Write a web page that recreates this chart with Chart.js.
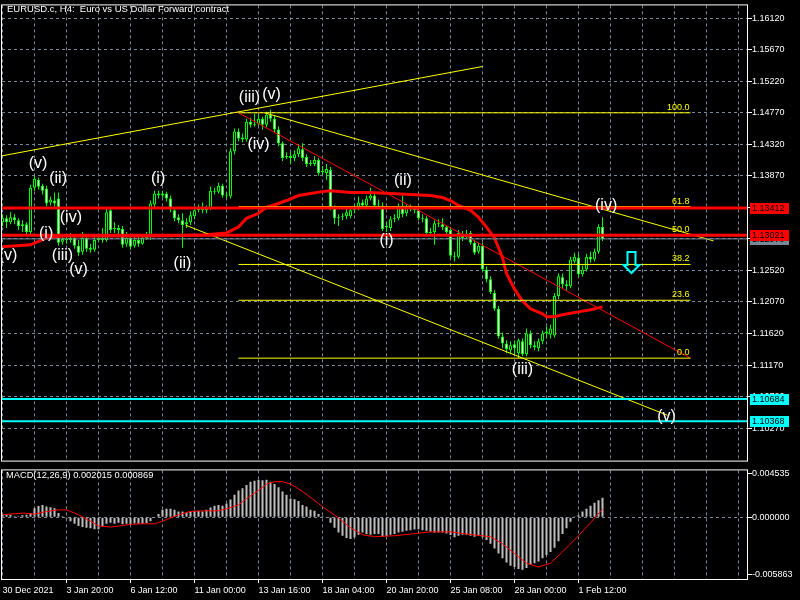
<!DOCTYPE html>
<html>
<head>
<meta charset="utf-8">
<title>EURUSD.c H4</title>
<script src="https://cdn.jsdelivr.net/npm/chart.js@4.4.1/dist/chart.umd.min.js"></script>
<style>
  html, body { margin: 0; padding: 0; background: #000; }
  #wrap { position: relative; width: 800px; height: 600px; overflow: hidden; }
  #price { position: absolute; left: 0; top: 0; }
  #macd { position: absolute; left: 0; top: 465px; }
</style>
</head>
<body>
<div id="wrap">
  <canvas id="price" width="800" height="466"></canvas>
  <canvas id="macd" width="800" height="135"></canvas>
</div>
<script>
// chart header
const chartTitle = "EURUSD.c, H4:  Euro vs US Dollar Forward contract";
const macdTitle = "MACD(12,26,9) 0.002015 0.000869";

// H4 candles, bar index 0..150
const opens = [
  1.13209, 1.13265, 1.13209, 1.13280, 1.13237, 1.13153, 1.13181, 1.13069, 1.13702, 1.13814,
  1.13730, 1.13688, 1.13490, 1.13518, 1.13547, 1.12928, 1.12970, 1.12956, 1.12984, 1.12872,
  1.12787, 1.12984, 1.12844, 1.12815, 1.12956, 1.12984, 1.12956, 1.13378, 1.13111, 1.13125,
  1.13111, 1.12900, 1.12984, 1.12872, 1.12956, 1.12900, 1.12984, 1.12998, 1.13462, 1.13617,
  1.13589, 1.13617, 1.13547, 1.13378, 1.13280, 1.13237, 1.13181, 1.13209, 1.13294, 1.13378,
  1.13406, 1.13378, 1.13406, 1.13659, 1.13645, 1.13730, 1.13589, 1.13575, 1.14222, 1.14503,
  1.14419, 1.14390, 1.14643, 1.14601, 1.14615, 1.14685, 1.14601, 1.14742, 1.14685, 1.14531,
  1.14334, 1.14138, 1.14152, 1.14124, 1.14180, 1.14250, 1.14138, 1.14039, 1.14039, 1.14095,
  1.13926, 1.13912, 1.13955, 1.13406, 1.13265, 1.13280, 1.13294, 1.13294, 1.13378, 1.13406,
  1.13490, 1.13448, 1.13547, 1.13589, 1.13476, 1.13448, 1.13139, 1.13125, 1.13251, 1.13265,
  1.13420, 1.13336, 1.13420, 1.13406, 1.13378, 1.13265, 1.13265, 1.13055, 1.13069, 1.13195,
  1.13181, 1.13139, 1.13097, 1.12731, 1.12717, 1.13040, 1.12998, 1.13055, 1.12914, 1.12787,
  1.12872, 1.12534, 1.12393, 1.12197, 1.11972, 1.11578, 1.11479, 1.11381, 1.11465, 1.11339,
  1.11508, 1.11325, 1.11620, 1.11451, 1.11409, 1.11508, 1.11620, 1.11606, 1.11592, 1.12154,
  1.12422, 1.12323, 1.12295, 1.12647, 1.12703, 1.12464, 1.12534, 1.12717, 1.12675, 1.12787,
  1.13139
];
const highs = [
  1.13322, 1.13308, 1.13350, 1.13322, 1.13265, 1.13237, 1.13209, 1.13744, 1.13870, 1.13842,
  1.13758, 1.13730, 1.13575, 1.13631, 1.13631, 1.13012, 1.13012, 1.13055, 1.13040, 1.12956,
  1.13069, 1.13026, 1.12900, 1.13012, 1.13040, 1.13125, 1.13406, 1.13420, 1.13209, 1.13167,
  1.13153, 1.13069, 1.13026, 1.13012, 1.12998, 1.13040, 1.13069, 1.13518, 1.13659, 1.13659,
  1.13659, 1.13645, 1.13589, 1.13420, 1.13322, 1.13336, 1.13265, 1.13364, 1.13434, 1.13462,
  1.13490, 1.13448, 1.13716, 1.13702, 1.13772, 1.13758, 1.13631, 1.14264, 1.14545, 1.14545,
  1.14475, 1.14685, 1.14700, 1.14756, 1.14742, 1.14714, 1.14784, 1.14812, 1.14728, 1.14573,
  1.14362, 1.14208, 1.14208, 1.14236, 1.14320, 1.14334, 1.14180, 1.14095, 1.14152, 1.14124,
  1.14011, 1.14039, 1.13997, 1.13448, 1.13322, 1.13336, 1.13406, 1.13434, 1.13462, 1.13575,
  1.13533, 1.13589, 1.13702, 1.13631, 1.13533, 1.13490, 1.13209, 1.13294, 1.13322, 1.13476,
  1.13589, 1.13462, 1.13462, 1.13434, 1.13420, 1.13322, 1.13294, 1.13125, 1.13237, 1.13251,
  1.13265, 1.13167, 1.13139, 1.12787, 1.13097, 1.13083, 1.13097, 1.13083, 1.12956, 1.12914,
  1.12914, 1.12576, 1.12436, 1.12239, 1.12014, 1.11634, 1.11522, 1.11508, 1.11522, 1.11550,
  1.11550, 1.11690, 1.11662, 1.11508, 1.11550, 1.11662, 1.11719, 1.11747, 1.12197, 1.12478,
  1.12478, 1.12379, 1.12717, 1.12773, 1.12759, 1.12590, 1.12759, 1.12787, 1.12830, 1.13181,
  1.13280
];
const lows = [
  1.13153, 1.13125, 1.13181, 1.13181, 1.13097, 1.13069, 1.13026, 1.13012, 1.13659, 1.13674,
  1.13603, 1.13434, 1.13448, 1.13434, 1.12872, 1.12886, 1.12900, 1.12914, 1.12830, 1.12731,
  1.12745, 1.12787, 1.12773, 1.12787, 1.12928, 1.12914, 1.12928, 1.13055, 1.13055, 1.13026,
  1.12844, 1.12858, 1.12815, 1.12844, 1.12858, 1.12886, 1.12956, 1.12956, 1.13420, 1.13547,
  1.13561, 1.13504, 1.13350, 1.13223, 1.13195, 1.12844, 1.13125, 1.13167, 1.13251, 1.13350,
  1.13336, 1.13336, 1.13378, 1.13603, 1.13617, 1.13561, 1.13547, 1.13547, 1.14180, 1.14362,
  1.14348, 1.14362, 1.14559, 1.14573, 1.14587, 1.14531, 1.14559, 1.14643, 1.14489, 1.14292,
  1.14081, 1.14110, 1.14039, 1.14081, 1.14138, 1.14081, 1.13997, 1.14011, 1.14011, 1.13870,
  1.13884, 1.13814, 1.13378, 1.13181, 1.13153, 1.13237, 1.13251, 1.13265, 1.13336, 1.13378,
  1.13406, 1.13420, 1.13518, 1.13420, 1.13406, 1.13083, 1.13069, 1.13083, 1.13209, 1.13237,
  1.13280, 1.13294, 1.13364, 1.13336, 1.13237, 1.13209, 1.13026, 1.13026, 1.12886, 1.13139,
  1.13097, 1.13026, 1.12689, 1.12647, 1.12689, 1.12942, 1.12970, 1.12886, 1.12745, 1.12759,
  1.12506, 1.12351, 1.12183, 1.11944, 1.11550, 1.11409, 1.11339, 1.11325, 1.11325, 1.11268,
  1.11297, 1.11297, 1.11409, 1.11381, 1.11367, 1.11465, 1.11550, 1.11550, 1.11564, 1.12112,
  1.12267, 1.12239, 1.12267, 1.12619, 1.12422, 1.12436, 1.12506, 1.12633, 1.12647, 1.12759,
  1.12942
];
const closes = [
  1.13265, 1.13209, 1.13280, 1.13237, 1.13153, 1.13181, 1.13069, 1.13702, 1.13828, 1.13716,
  1.13659, 1.13476, 1.13533, 1.13476, 1.12914, 1.12970, 1.12956, 1.12984, 1.12872, 1.12773,
  1.12984, 1.12830, 1.12815, 1.12956, 1.12984, 1.12956, 1.13350, 1.13097, 1.13125, 1.13097,
  1.12886, 1.12984, 1.12858, 1.12956, 1.12900, 1.12984, 1.12998, 1.13476, 1.13617, 1.13589,
  1.13617, 1.13547, 1.13392, 1.13265, 1.13237, 1.13167, 1.13209, 1.13308, 1.13378, 1.13406,
  1.13378, 1.13406, 1.13659, 1.13645, 1.13730, 1.13589, 1.13603, 1.14222, 1.14503, 1.14405,
  1.14390, 1.14643, 1.14601, 1.14615, 1.14685, 1.14601, 1.14742, 1.14685, 1.14531, 1.14334,
  1.14124, 1.14152, 1.14124, 1.14180, 1.14264, 1.14124, 1.14039, 1.14053, 1.14095, 1.13912,
  1.13940, 1.13969, 1.13420, 1.13265, 1.13280, 1.13294, 1.13350, 1.13378, 1.13392, 1.13490,
  1.13448, 1.13547, 1.13589, 1.13448, 1.13462, 1.13111, 1.13153, 1.13251, 1.13265, 1.13420,
  1.13322, 1.13420, 1.13406, 1.13378, 1.13265, 1.13251, 1.13055, 1.13069, 1.13195, 1.13181,
  1.13139, 1.13069, 1.12731, 1.12717, 1.13055, 1.12984, 1.13040, 1.12914, 1.12773, 1.12872,
  1.12534, 1.12393, 1.12211, 1.11972, 1.11578, 1.11479, 1.11395, 1.11451, 1.11409, 1.11522,
  1.11325, 1.11620, 1.11451, 1.11423, 1.11508, 1.11620, 1.11648, 1.11690, 1.12154, 1.12436,
  1.12323, 1.12295, 1.12675, 1.12717, 1.12464, 1.12534, 1.12717, 1.12675, 1.12787, 1.13139,
  1.12970
];

// red moving average at these bars
const maIdx = [0, 7, 11, 15, 25, 37, 50, 56, 59, 61, 64, 66, 69, 71, 74, 77, 80, 82, 87, 92,
  97, 102, 107, 110, 112, 114, 117, 119, 121, 123, 125, 126, 128, 130, 132, 135, 136, 138, 140, 144, 147, 150];
const maVal = [1.12858, 1.12886, 1.12984, 1.13012, 1.13012, 1.13012, 1.13026, 1.13055, 1.13139, 1.13265,
  1.13336, 1.13420, 1.13476, 1.13518, 1.13589, 1.13617, 1.13645, 1.13659, 1.13631, 1.13631,
  1.13617, 1.13603, 1.13589, 1.13561, 1.13518, 1.13448, 1.13378, 1.13280, 1.13139, 1.12984,
  1.12703, 1.12478, 1.12253, 1.12084, 1.11972, 1.11901, 1.11859, 1.11859, 1.11887, 1.11929, 1.11958, 1.12000];

// MACD main (histogram) per bar
const macdHist = [
  0.00027, 0.00027, 0.00027, 0.00010, 0.00010, 0.00020, 0.00027, 0.00043, 0.00093, 0.00117,
  0.00127, 0.00110, 0.00103, 0.00093, 0.00043, 0.00010, -0.00013, -0.00040, -0.00067, -0.00090,
  -0.00100, -0.00107, -0.00113, -0.00123, -0.00123, -0.00090, -0.00067, -0.00057, -0.00067, -0.00057,
  -0.00073, -0.00067, -0.00073, -0.00063, -0.00067, -0.00067, -0.00060, -0.00040, -0.00007, 0.00033,
  0.00077, 0.00087, 0.00087, 0.00077, 0.00060, 0.00060, 0.00053, 0.00060, 0.00067, 0.00067,
  0.00060, 0.00077, 0.00100, 0.00120, 0.00127, 0.00120, 0.00143, 0.00183, 0.00233, 0.00277,
  0.00300, 0.00333, 0.00367, 0.00377, 0.00387, 0.00383, 0.00387, 0.00367, 0.00343, 0.00310,
  0.00267, 0.00233, 0.00193, 0.00187, 0.00167, 0.00127, 0.00110, 0.00077, 0.00067, 0.00033,
  0.00010, -0.00007, -0.00057, -0.00107, -0.00157, -0.00190, -0.00213, -0.00223, -0.00207, -0.00180,
  -0.00157, -0.00173, -0.00180, -0.00173, -0.00173, -0.00200, -0.00193, -0.00180, -0.00173, -0.00157,
  -0.00150, -0.00140, -0.00133, -0.00127, -0.00123, -0.00133, -0.00140, -0.00150, -0.00157, -0.00157,
  -0.00157, -0.00167, -0.00183, -0.00207, -0.00190, -0.00180, -0.00180, -0.00190, -0.00200, -0.00190,
  -0.00207, -0.00233, -0.00273, -0.00323, -0.00373, -0.00423, -0.00467, -0.00500, -0.00513, -0.00533,
  -0.00540, -0.00523, -0.00490, -0.00473, -0.00457, -0.00423, -0.00390, -0.00357, -0.00313, -0.00247,
  -0.00173, -0.00113, -0.00047, 0.00007, 0.00020, 0.00060, 0.00087, 0.00120, 0.00150, 0.00175,
  0.002015
];
// MACD signal line, read at these bars
const sigIdx = [0, 5, 8, 11, 14, 16, 19, 22, 24, 27, 29, 32, 35, 38, 40, 42, 44, 47, 50, 54,
  56, 59, 61, 64, 66, 68, 70, 72, 75, 80, 84, 87, 90, 93, 98, 102, 107, 112, 116, 122,
  125, 128, 131, 134, 137, 140, 144, 147, 150];
const sigVal = [0.00027, 0.00043, 0.00033, 0.00060, 0.00077, 0.00077, 0.00027, -0.00040, -0.00090, -0.00100,
  -0.00090, -0.00073, -0.00067, -0.00067, -0.00040, -0.00007, 0.00027, 0.00060, 0.00067, 0.00067,
  0.00087, 0.00127, 0.00193, 0.00277, 0.00343, 0.00367, 0.00367, 0.00343, 0.00267, 0.00110,
  -0.00007, -0.00107, -0.00180, -0.00200, -0.00190, -0.00173, -0.00150, -0.00150, -0.00173, -0.00200,
  -0.00273, -0.00373, -0.00473, -0.00513, -0.00473, -0.00357, -0.00190, -0.00057, 0.000869];

// axes
const priceTicks = [1.16120, 1.15670, 1.15220, 1.14770, 1.14320, 1.13870, 1.13420, 1.12970,
  1.12520, 1.12070, 1.11620, 1.11170, 1.10720, 1.10270];
const macdTicks = [0.004535, 0.000000, -0.005863];
const dateIdx = [0, 16, 32, 48, 64, 80, 96, 112, 128, 144];
const dateLabels = ["30 Dec 2021", "3 Jan 20:00", "6 Jan 12:00", "11 Jan 00:00", "13 Jan 16:00",
  "18 Jan 04:00", "20 Jan 20:00", "25 Jan 08:00", "28 Jan 00:00", "1 Feb 12:00"];
const gridStep = 8;
const xMin = -0.125, xMax = 186.125;
const yMin = 1.09806, yMax = 1.16303;
const macdMin = -0.006363, macdMax = 0.004835;

// horizontal levels
const redLevels = [1.13412, 1.13021];
const cyanLevels = [1.10684, 1.10368];
const bidPrice = 1.12970;

// drawn objects: [bar1, price1, bar2, price2]
const trendLines = [
  [-0.5, 1.14152, 120, 1.15431],
  [65.5, 1.14770, 177.75, 1.12942],
  [45.75, 1.13167, 166.25, 1.10453]
];
const fibStart = 59, fibEnd = 172;
const fibHigh = 1.14770, fibLow = 1.11268;
const fibLevels = [100, 61.8, 50, 38.2, 23.6, 0];

// Elliott wave labels: [bar, price, text]
const waveLabels = [
  [1.4, 1.12738, "(v)"], [8.9, 1.14046, "(v)"], [13.9, 1.13835, "(ii)"], [17.1, 1.13272, "(iv)"],
  [10.9, 1.13040, "(i)"], [15, 1.12738, "(iii)"], [19, 1.12527, "(v)"], [38.9, 1.13835, "(i)"],
  [45, 1.12611, "(ii)"], [61.75, 1.14988, "(iii)"], [67.25, 1.15023, "(v)"], [64, 1.14313, "(iv)"],
  [100.1, 1.13800, "(ii)"], [96, 1.12949, "(i)"], [150.9, 1.13448, "(iv)"], [130, 1.11107, "(iii)"],
  [166, 1.10432, "(v)"]
];
const arrowAt = [157, 1.12787];

Chart.defaults.font.family = '"Liberation Sans", Arial, sans-serif';
Chart.defaults.color = "#ffffff";

const GRID = "#778899";
const seg = (x1, y1, x2, y2) => [{ x: x1, y: y1 }, { x: x2, y: y2 }];
const lineDs = (data, color, width, order) => ({
  type: "line", data, borderColor: color, borderWidth: width, pointRadius: 0,
  fill: false, tension: 0, order, clip: 0
});

const bodyColors = opens.map((o, i) => (closes[i] >= o ? "#000000" : "#ffffff"));

const priceDatasets = [];
redLevels.forEach(p => priceDatasets.push(lineDs(seg(xMin, p, xMax, p), "#ff0000", 3, 0)));
cyanLevels.forEach(p => priceDatasets.push(lineDs(seg(xMin, p, xMax, p), "#00ffff", 2, 0)));
priceDatasets.push(lineDs(seg(xMin, bidPrice, xMax, bidPrice), GRID, 1, 0));
fibLevels.forEach(l => {
  const p = fibLow + (fibHigh - fibLow) * l / 100;
  priceDatasets.push(lineDs(seg(fibStart, p, fibEnd, p), "#ffff00", 1, 1));
});
priceDatasets.push(lineDs(seg(fibStart, fibHigh, fibEnd, fibLow), "#ff0000", 1, 1));
trendLines.forEach(t => priceDatasets.push(lineDs(seg(t[0], t[1], t[2], t[3]), "#ffff00", 1, 1)));
priceDatasets.push(lineDs(maIdx.map((x, k) => ({ x, y: maVal[k] })), "#ff0000", 3, 2));
priceDatasets.push({
  type: "bar", order: 3, grouped: false, barThickness: 3, minBarLength: 1,
  data: opens.map((o, i) => ({ x: i, y: [o, closes[i]] })),
  backgroundColor: bodyColors, borderColor: "#00ff00", borderWidth: 1,
  borderSkipped: false, inflateAmount: 0
});
priceDatasets.push({
  type: "bar", order: 4, grouped: false, barThickness: 1,
  data: highs.map((h, i) => ({ x: i, y: [lows[i], h] })),
  backgroundColor: "#00ff00", borderWidth: 0, inflateAmount: 0
});

function drawFrame(chart) {
  const { ctx, chartArea: ca } = chart;
  ctx.save();
  ctx.strokeStyle = "#ffffff";
  ctx.lineWidth = 1;
  ctx.strokeRect(ca.left - 0.5, ca.top - 0.5, ca.right - ca.left + 1, ca.bottom - ca.top + 1);
  ctx.restore();
}

function priceBox(chart, price, bg, fg) {
  const { ctx, chartArea: ca, scales: { y } } = chart;
  const py = Math.round(y.getPixelForValue(price));
  ctx.fillStyle = bg;
  ctx.fillRect(ca.right + 3, py - 5, 39, 11);
  ctx.fillStyle = fg;
  ctx.font = '9px "Liberation Sans"';
  ctx.textAlign = "left";
  ctx.textBaseline = "middle";
  ctx.fillText(price.toFixed(5), ca.right + 5, py + 0.5);
}

const priceOverlay = {
  id: "priceOverlay",
  afterDatasetsDraw(chart) {
    const { ctx, chartArea: ca, scales: { x, y } } = chart;
    ctx.save();
    ctx.beginPath();
    ctx.rect(ca.left, ca.top, ca.right - ca.left, ca.bottom - ca.top);
    ctx.clip();

    // fibonacci level captions
    ctx.font = '9px "Liberation Sans"';
    ctx.fillStyle = "#ffff00";
    ctx.textAlign = "right";
    ctx.textBaseline = "alphabetic";
    fibLevels.forEach(l => {
      const p = fibLow + (fibHigh - fibLow) * l / 100;
      ctx.fillText(l.toFixed(1), x.getPixelForValue(fibEnd) - 1, y.getPixelForValue(p) - 3);
    });

    // wave counts
    ctx.font = '16px "Liberation Sans"';
    ctx.fillStyle = "#ffffff";
    ctx.textAlign = "center";
    ctx.textBaseline = "middle";
    waveLabels.forEach(([b, p, t]) => ctx.fillText(t, x.getPixelForValue(b), y.getPixelForValue(p)));

    // hollow down arrow
    const ax = Math.round(x.getPixelForValue(arrowAt[0])) + 0.5;
    const ay = Math.round(y.getPixelForValue(arrowAt[1]));
    ctx.strokeStyle = "#00ffff";
    ctx.lineWidth = 2;
    ctx.beginPath();
    ctx.moveTo(ax - 4, ay);
    ctx.lineTo(ax + 4, ay);
    ctx.lineTo(ax + 4, ay + 13);
    ctx.lineTo(ax + 8, ay + 13);
    ctx.lineTo(ax, ay + 21);
    ctx.lineTo(ax - 8, ay + 13);
    ctx.lineTo(ax - 4, ay + 13);
    ctx.closePath();
    ctx.stroke();
    ctx.restore();
  },
  afterDraw(chart) {
    const { ctx } = chart;
    drawFrame(chart);
    ctx.save();
    priceBox(chart, bidPrice, GRID, "#000000");
    redLevels.forEach(p => priceBox(chart, p, "#ff0000", "#000000"));
    cyanLevels.forEach(p => priceBox(chart, p, "#00ffff", "#000000"));
    ctx.font = '9.5px "Liberation Sans"';
    ctx.fillStyle = "#ffffff";
    ctx.textAlign = "left";
    ctx.textBaseline = "top";
    ctx.fillText(chartTitle, 7, 5);
    ctx.restore();
  }
};

const gridTicks = [];
for (let v = 0; v <= xMax; v += gridStep) gridTicks.push(v);

new Chart(document.getElementById("price"), {
  type: "bar",
  data: { datasets: priceDatasets },
  plugins: [priceOverlay],
  options: {
    responsive: false,
    animation: false,
    layout: { padding: { left: 2, top: 2, right: 0, bottom: 2 } },
    plugins: { legend: { display: false }, tooltip: { enabled: false } },
    scales: {
      x: {
        type: "linear", min: xMin, max: xMax, offset: false,
        afterBuildTicks: s => { s.ticks = gridTicks.map(v => ({ value: v })); },
        afterFit: s => { s.height = 0; },
        ticks: { display: false },
        grid: { color: GRID, drawTicks: false, offset: false },
        border: { display: false, dash: [3, 3] }
      },
      y: {
        position: "right", min: yMin, max: yMax,
        afterBuildTicks: s => { s.ticks = priceTicks.map(v => ({ value: v })); },
        afterFit: s => { s.width = 53; },
        ticks: { callback: v => v.toFixed(5), color: "#ffffff", font: { size: 9 }, padding: 0 },
        grid: { color: GRID, tickColor: "#ffffff", tickLength: 5, tickBorderDash: [] },
        border: { display: false, dash: [3, 3] }
      }
    }
  }
});

const macdOverlay = {
  id: "macdOverlay",
  afterDraw(chart) {
    const { ctx } = chart;
    drawFrame(chart);
    ctx.save();
    ctx.font = '9.3px "Liberation Sans"';
    ctx.fillStyle = "#ffffff";
    ctx.textAlign = "left";
    ctx.textBaseline = "top";
    ctx.fillText(macdTitle, 6, 6);
    ctx.restore();
  }
};

new Chart(document.getElementById("macd"), {
  type: "bar",
  data: {
    datasets: [
      lineDs(sigIdx.map((x, k) => ({ x, y: sigVal[k] })), "#ff0000", 1, 0),
      {
        type: "bar", order: 1, grouped: false, barThickness: 2,
        data: macdHist.map((v, i) => ({ x: i, y: v })),
        backgroundColor: "#c0c0c0", borderWidth: 0, inflateAmount: 0
      }
    ]
  },
  plugins: [macdOverlay],
  options: {
    responsive: false,
    animation: false,
    layout: { padding: { left: 2, top: 2, right: 0, bottom: 0 } },
    plugins: { legend: { display: false }, tooltip: { enabled: false } },
    scales: {
      x: {
        type: "linear", min: xMin, max: xMax, offset: false,
        afterBuildTicks: s => { s.ticks = gridTicks.map(v => ({ value: v })); },
        afterFit: s => { s.height = 21; },
        ticks: {
          autoSkip: false, maxRotation: 0, align: "start", padding: 2,
          color: "#ffffff", font: { size: 9 },
          callback: v => { const k = dateIdx.indexOf(v); return k >= 0 ? dateLabels[k] : ""; }
        },
        grid: {
          color: GRID, tickLength: 4, offset: false, tickBorderDash: [],
          tickColor: c => (c.tick && c.tick.value > 0 && dateIdx.includes(c.tick.value) ? "#ffffff" : "rgba(0,0,0,0)")
        },
        border: { display: false, dash: [3, 3] }
      },
      y: {
        position: "right", min: macdMin, max: macdMax,
        afterBuildTicks: s => { s.ticks = macdTicks.map(v => ({ value: v })); },
        afterFit: s => { s.width = 53; },
        ticks: { callback: v => v.toFixed(6), color: "#ffffff", font: { size: 9 }, padding: 0 },
        grid: {
          color: c => (c.tick && c.tick.value === 0 ? GRID : "rgba(0,0,0,0)"),
          tickColor: "#ffffff", tickLength: 5, tickBorderDash: []
        },
        border: { display: false, dash: [3, 3] }
      }
    }
  }
});
</script>
</body>
</html>
